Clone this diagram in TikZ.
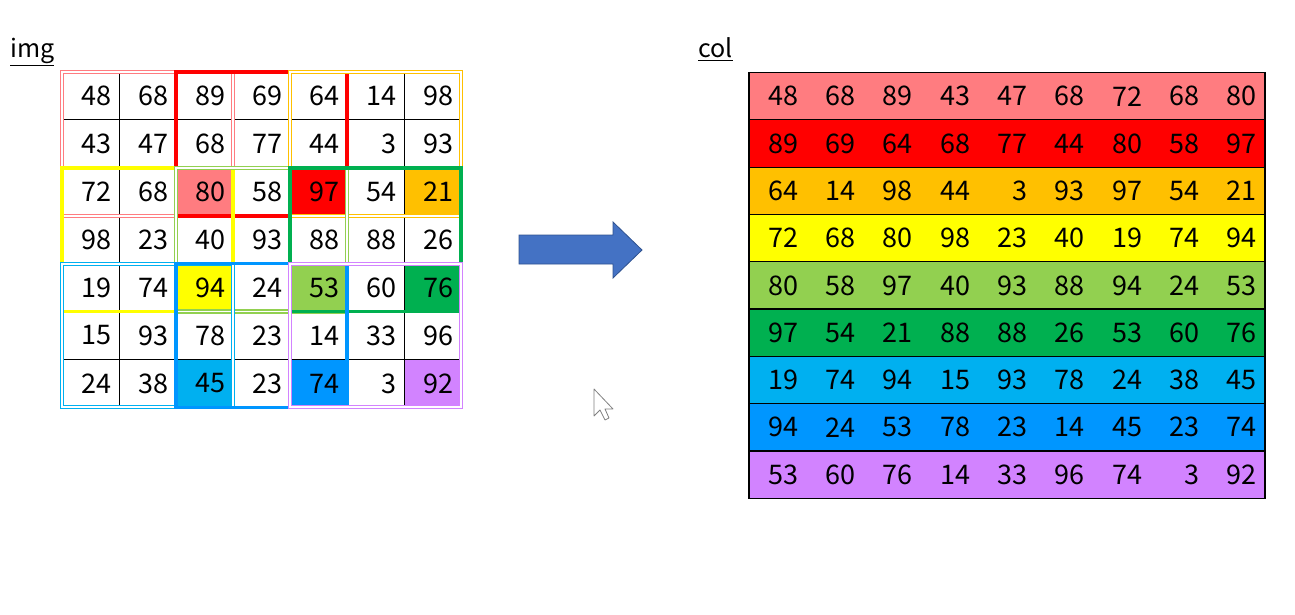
\documentclass[tikz,border=0pt]{standalone}
\usepackage{fontspec}
\setmainfont{Noto Sans CJK JP}
\usetikzlibrary{positioning,calc}
\definecolor{wsalmon}{HTML}{FF7C80}
\definecolor{wred}{HTML}{FF0000}
\definecolor{worange}{HTML}{FFC000}
\definecolor{wyellow}{HTML}{FFFF00}
\definecolor{wlightgreen}{HTML}{92D050}
\definecolor{wgreen}{HTML}{00B050}
\definecolor{wlightblue}{HTML}{00B0F0}
\definecolor{wblue}{HTML}{0096FF}
\definecolor{wviolet}{HTML}{D283FF}
\definecolor{arrowblue}{HTML}{4472C4}
\definecolor{arrowedge}{HTML}{2F528F}

\tikzset{
  num/.style={anchor=east,inner sep=0pt,font=\fontsize{27}{27}\selectfont},
  label/.style={anchor=base west,inner sep=0pt,font=\fontsize{25}{25}\selectfont},
  gridline/.style={line width=1pt},
  thinwin/.style={draw=#1,double=white,line width=1.2pt,double distance=1.8pt},
  thickwin/.style={draw=#1,line width=3.6pt},
}

\begin{document}
\begin{tikzpicture}[x=1pt,y=-1pt]
  \useasboundingbox (0,0) rectangle (1295,615);

  % Labels
  \node[label] (imglabel) at (10,58) {\underline{img}};
  \node[label] (collabel) at (698,58) {\underline{col}};

  % img: last cell of each window filled
  \foreach \r/\c/\col in {2/2/wsalmon,2/4/wred,2/6/worange,4/2/wyellow,4/4/wlightgreen,
                          4/6/wgreen,6/2/wlightblue,6/4/wblue,6/6/wviolet}
    \fill[\col] ({62+57*\c},{72+47.9*\r}) rectangle ({119+57*\c},{119.9+47.9*\r});

  % img: cell lines
  \foreach \c in {0,...,7}
    \draw[gridline] ({62+57*\c},72) -- ({62+57*\c},407.3);
  \foreach \r in {0,...,7}
    \draw[gridline] (62,{72+47.9*\r}) -- (461,{72+47.9*\r});

  % img: 3x3 windows, stride 2
  \foreach \i/\j/\col/\sty in {0/0/wsalmon/thinwin,0/1/wred/thickwin,0/2/worange/thinwin,
                               1/0/wyellow/thickwin,1/1/wlightgreen/thinwin,1/2/wgreen/thickwin,
                               2/0/wlightblue/thinwin,2/1/wblue/thickwin,2/2/wviolet/thinwin}
    \draw[\sty=\col] ({62+114*\j},{72+95.8*\i}) rectangle ({233+114*\j},{215.7+95.8*\i});

  % img: values
  \foreach \row [count=\r from 0] in {{48,68,89,69,64,14,98},{43,47,68,77,44,3,93},
                                      {72,68,80,58,97,54,21},{98,23,40,93,88,88,26},
                                      {19,74,94,24,53,60,76},{15,93,78,23,14,33,96},
                                      {24,38,45,23,74,3,92}}
    \foreach \v [count=\c from 0] in \row
      \node[num] (img-\r-\c) at ({112+57*\c},{96+47.9*\r}) {\v};

  % Arrow
  \draw[arrowedge,fill=arrowblue,line width=0.8pt]
    (519,235) -- (613,235) -- (613,222) -- (642,250) -- (613,278) -- (613,264) -- (519,264) -- cycle;

  % Mouse pointer
  \draw[gray,fill=white,line width=0.8pt,line join=round]
    (594,389) -- (594,416) -- (600,410) -- (605,420) -- (609,418) -- (605,409) -- (613,409) -- cycle;

  % col: one row per window
  \foreach \col [count=\r from 0] in {wsalmon,wred,worange,wyellow,wlightgreen,wgreen,wlightblue,wblue,wviolet}
    \draw[fill=\col,line width=1.2pt] (749,{72.5+47.3*\r}) rectangle (1265,{119.8+47.3*\r});

  % col: values
  \foreach \row [count=\r from 0] in {{48,68,89,43,47,68,72,68,80},{89,69,64,68,77,44,80,58,97},
                                      {64,14,98,44,3,93,97,54,21},{72,68,80,98,23,40,19,74,94},
                                      {80,58,97,40,93,88,94,24,53},{97,54,21,88,88,26,53,60,76},
                                      {19,74,94,15,93,78,24,38,45},{94,24,53,78,23,14,45,23,74},
                                      {53,60,76,14,33,96,74,3,92}}
    \foreach \v [count=\c from 0] in \row
      \node[num] (col-\r-\c) at ({798.3+57.33*\c},{96.2+47.3*\r}) {\v};

\end{tikzpicture}
\end{document}
